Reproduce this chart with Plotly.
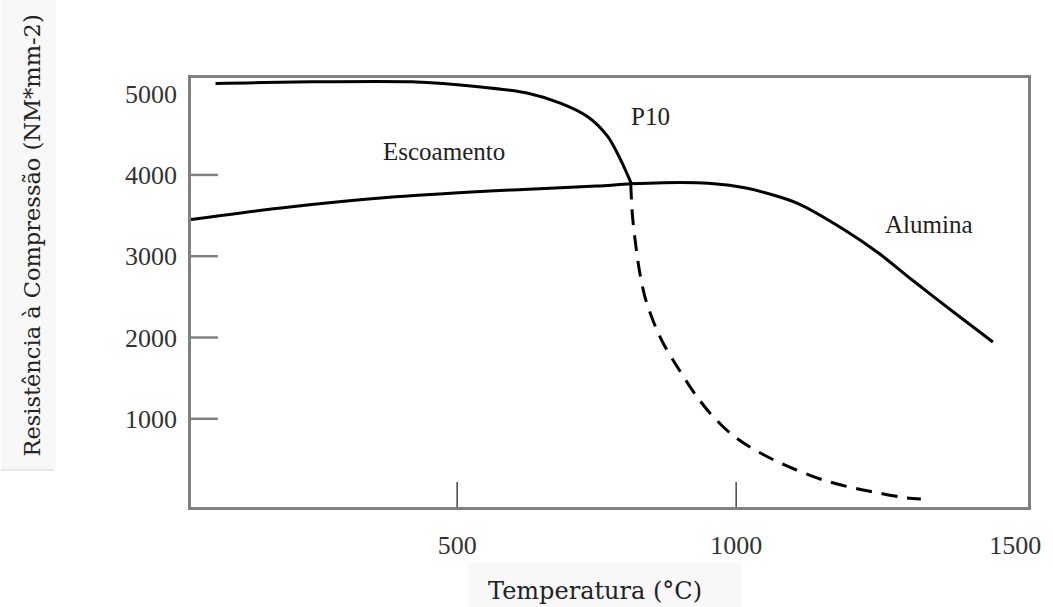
import plotly.graph_objects as go

# ---- data ----
alumina_T = [23, 180, 390, 600, 750, 810, 870, 950, 1020, 1110, 1195, 1255, 1315, 1390, 1460]
alumina_R = [3450, 3590, 3730, 3815, 3862, 3890, 3905, 3898, 3835, 3650, 3320, 3040, 2710, 2310, 1945]

p10_T = [67, 240, 418, 538, 627, 686, 734, 770, 793, 812]
p10_R = [5125, 5145, 5145, 5085, 5005, 4880, 4715, 4470, 4185, 3897]

p10_dash_T = [811, 814, 820, 827, 837, 852, 869, 889, 925, 953, 989, 1024, 1067, 1108, 1156, 1203, 1256, 1304, 1331]
p10_dash_R = [3897, 3507, 3138, 2806, 2486, 2191, 1932, 1699, 1317, 1071, 825, 655, 495, 370, 247, 160, 87, 28, 14]

x_tick_vals = [500, 1000, 1500]
x_tick_marks = [500, 1000]
y_tick_vals = [1000, 2000, 3000, 4000, 5000]
y_tick_marks = [1000, 2000, 3000, 4000]

x_title = "Temperatura (°C)"
y_title = "Resistência à Compressão (NM*mm-2)"

SERIF = "Liberation Serif, Times New Roman, serif"

fig = go.Figure()
fig.add_trace(go.Scatter(x=alumina_T, y=alumina_R, mode="lines", name="Alumina",
                         line=dict(color="black", width=3, shape="spline", smoothing=0.8)))
fig.add_trace(go.Scatter(x=p10_T, y=p10_R, mode="lines", name="P10",
                         line=dict(color="black", width=3, shape="spline", smoothing=0.8)))
fig.add_trace(go.Scatter(x=p10_dash_T, y=p10_dash_R, mode="lines", name="P10 (extrap.)",
                         line=dict(color="black", width=3, dash="16px,10px", shape="spline", smoothing=0.8)))

# inside tick marks (only where the reference shows them)
for t in x_tick_marks:
    fig.add_shape(type="line", xref="x", yref="y domain", x0=t, x1=t, y0=0, y1=25 / 429,
                  line=dict(color="#444444", width=1.5))
for t in y_tick_marks:
    fig.add_shape(type="line", xref="x domain", yref="y", x0=0, x1=27 / 842, y0=t, y1=t,
                  line=dict(color="#808080", width=2.5))

# faint scanned background patches behind the axis titles
fig.add_shape(type="rect", xref="paper", yref="paper", x0=-0.2268, x1=-0.1615, y0=0.0862, y1=1.19,
              fillcolor="#f8f8f8", line=dict(width=0), layer="below")
fig.add_shape(type="line", xref="paper", yref="paper", x0=-0.2268, x1=-0.1639, y0=0.0862, y1=0.0862,
              line=dict(color="#e2e2e2", width=1.5))
fig.add_shape(type="rect", xref="paper", yref="paper", x0=0.3314, x1=0.658, y0=-0.1305, y1=-0.24,
              fillcolor="#f8f8f8", line=dict(width=0), layer="below")

# curve labels
lbl_font = dict(family=SERIF, size=25, color="#222222")
fig.add_annotation(x=476, y=4282, xref="x", yref="y", text="Escoamento", showarrow=False, font=lbl_font)
fig.add_annotation(x=846, y=4724, xref="x", yref="y", text="P10", showarrow=False, font=lbl_font)
fig.add_annotation(x=1345, y=3384, xref="x", yref="y", text="Alumina", showarrow=False, font=lbl_font)

# axis titles
fig.add_annotation(x=-0.1905, y=0.6317, xref="paper", yref="paper", text=y_title, textangle=-90,
                   showarrow=False, xanchor="center", yanchor="middle",
                   font=dict(family="DejaVu Serif, serif", size=22.5, color="#222222"))
fig.add_annotation(x=0.4822, y=-0.1958, xref="paper", yref="paper", text=x_title,
                   showarrow=False, xanchor="center", yanchor="middle",
                   font=dict(family="DejaVu Serif, serif", size=24, color="#222222"))

fig.update_xaxes(range=[23, 1523], tickvals=x_tick_vals, ticks="", showgrid=False, zeroline=False,
                 showline=True, mirror=True, linecolor="#808080", linewidth=2.5,
                 tickfont=dict(family=SERIF, size=26, color="#333333"), ticklabelstandoff=13)
fig.update_yaxes(range=[-85, 5192], tickvals=y_tick_vals, ticks="", showgrid=False, zeroline=False,
                 showline=True, mirror=True, linecolor="#808080", linewidth=2.5,
                 tickfont=dict(family=SERIF, size=26, color="#333333"), ticklabelstandoff=6)

fig.update_layout(width=1053, height=607, margin=dict(l=191, r=20, t=78, b=100),
                  paper_bgcolor="white", plot_bgcolor="white", showlegend=False)

fig.write_html("out.html")
